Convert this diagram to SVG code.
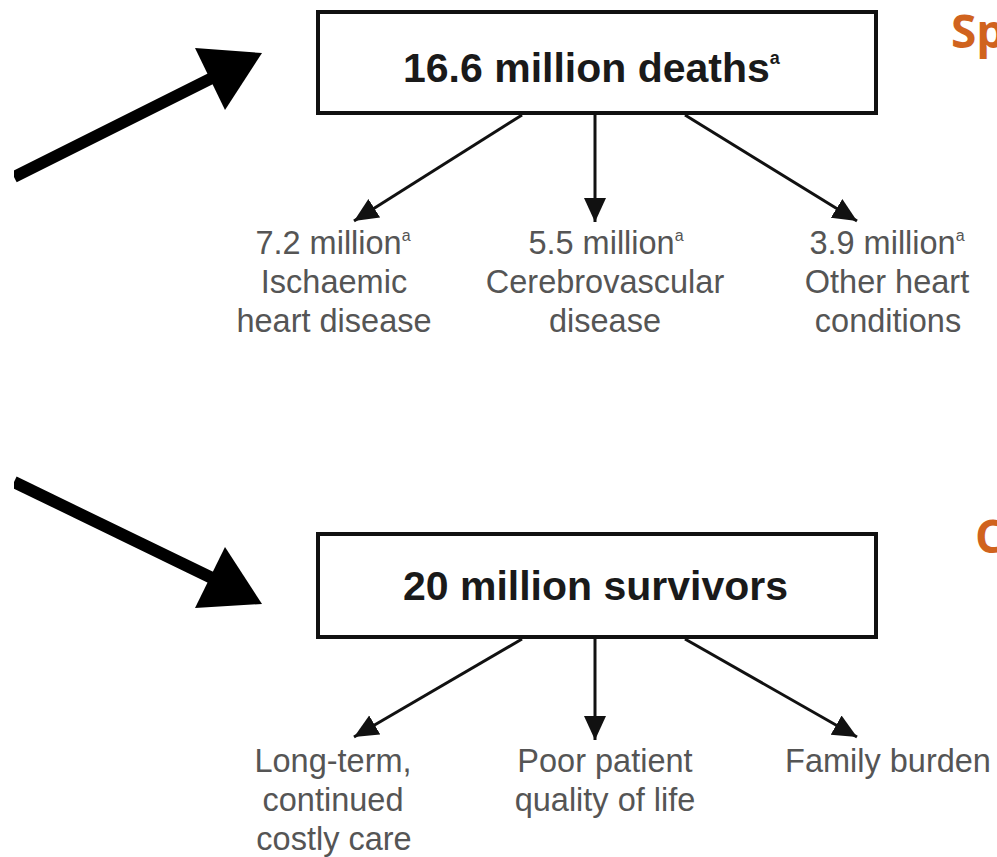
<svg xmlns="http://www.w3.org/2000/svg" width="997" height="857" viewBox="0 0 997 857">
<style>
.box{fill:#fff;stroke:#111;stroke-width:4}
.title{font-family:"Liberation Sans",Arial,sans-serif;font-weight:bold;font-size:41px;fill:#1a1a1a}
.lbl{font-family:"Liberation Sans",Arial,sans-serif;font-size:32.5px;fill:#555;text-anchor:middle}
.sup{font-size:16px}
.con{stroke:#111;stroke-width:3;fill:none;marker-end:url(#ah)}
.big{stroke:#000;stroke-width:12;fill:none}
.org{font-family:"Open Sans","DejaVu Sans",sans-serif;font-weight:bold;font-size:46px;fill:#D0631E}
</style>
<defs>
<marker id="ah" markerUnits="userSpaceOnUse" markerWidth="26" markerHeight="24" refX="24" refY="11" orient="auto" viewBox="0 0 26 24">
<path d="M0,0 L24,11 L0,22 z" fill="#111"/>
</marker>
</defs>
<rect width="997" height="857" fill="#fff"/>
<g id="side-arrows">
<line class="big" x1="14" y1="177" x2="212" y2="78"/>
<polygon points="195,48 262,53 225,110" fill="#000"/>
<line class="big" x1="14" y1="482" x2="212" y2="578"/>
<polygon points="225,547 262,604 195,608" fill="#000"/>
<rect x="0" y="0" width="14" height="857" fill="#fff"/>
</g>
<g id="connectors">
<line class="con" x1="522" y1="115" x2="354" y2="221"/>
<line class="con" x1="595" y1="115" x2="595" y2="222"/>
<line class="con" x1="685" y1="115" x2="857" y2="221"/>
<line class="con" x1="522" y1="639" x2="354" y2="737"/>
<line class="con" x1="595" y1="639" x2="595" y2="740"/>
<line class="con" x1="685" y1="639" x2="857" y2="737"/>
</g>
<g id="deaths">
<rect class="box" x="318" y="12" width="558" height="101"/>
<text class="title" x="403" y="82">16.6 million deaths<tspan font-size="18" dy="-18">a</tspan></text>
</g>
<g id="survivors">
<rect class="box" x="318" y="534" width="558" height="103"/>
<text class="title" x="403" y="600">20 million survivors</text>
</g>
<g id="ihd">
<text class="lbl" x="333" y="254">7.2 million<tspan class="sup" dy="-13">a</tspan></text>
<text class="lbl" x="334" y="293">Ischaemic</text>
<text class="lbl" x="334" y="332">heart disease</text>
</g>
<g id="cvd">
<text class="lbl" x="606" y="254">5.5 million<tspan class="sup" dy="-13">a</tspan></text>
<text class="lbl" x="605" y="293">Cerebrovascular</text>
<text class="lbl" x="605" y="332">disease</text>
</g>
<g id="other">
<text class="lbl" x="887" y="254">3.9 million<tspan class="sup" dy="-13">a</tspan></text>
<text class="lbl" x="887" y="293">Other heart</text>
<text class="lbl" x="888" y="332">conditions</text>
</g>
<g id="care">
<text class="lbl" x="333" y="772">Long-term,</text>
<text class="lbl" x="333" y="811">continued</text>
<text class="lbl" x="334" y="850">costly care</text>
</g>
<g id="qol">
<text class="lbl" x="605" y="772">Poor patient</text>
<text class="lbl" x="605" y="811">quality of life</text>
</g>
<g id="family">
<text class="lbl" x="888" y="772">Family burden</text>
</g>
<g id="orange">
<text class="org" x="951" y="48">Sp</text>
<text class="org" x="975" y="553">C</text>
</g>
</svg>
